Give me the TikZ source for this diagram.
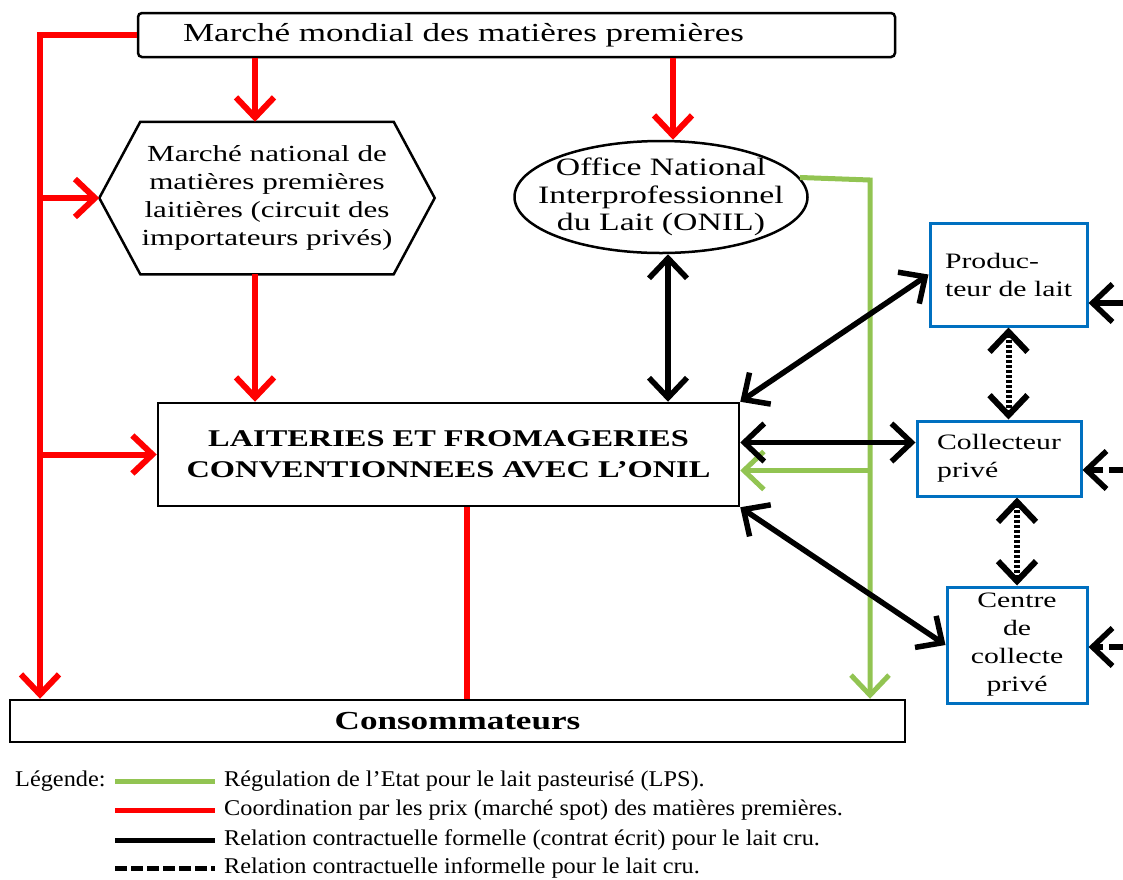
\documentclass[tikz,border=0pt]{standalone}
\usepackage{fontspec}
\setmainfont{Liberation Serif}
\newfontfamily\diagfont[FakeStretch=1.35]{Liberation Serif}
\newfontfamily\legfont[FakeStretch=1.08]{Liberation Serif}
\usetikzlibrary{arrows.meta}
\usetikzlibrary{shapes.geometric}
\definecolor{lpsgreen}{RGB}{146,196,82}
\definecolor{boxblue}{RGB}{0,112,192}
\tikzset{
  barb/.tip={Straight Barb[length=20pt,width=38pt]},
  redline/.style={red,line width=6pt},
  blackline/.style={black,line width=5.5pt},
  greenline/.style={lpsgreen,line width=5pt},
  infline/.style={black,line width=6pt,dash pattern=on 3pt off 2pt},
  mainbox/.style={draw,line width=2.5pt,fill=white,inner sep=0pt,align=center,
    font=\diagfont\fontsize{23}{28}\selectfont},
  bluebox/.style={draw=boxblue,line width=3pt,fill=white,inner sep=0pt,
    font=\diagfont\fontsize{22}{28}\selectfont},
  legtext/.style={anchor=west,inner sep=0pt,font=\legfont\fontsize{22.5}{24}\selectfont}
}
\begin{document}
\begin{tikzpicture}[x=1pt,y=-1pt]
  \useasboundingbox (0,0) rectangle (1123,879);
  % boxes
  \node[mainbox,rounded corners=4pt,minimum height=44pt,text width=667pt,inner xsep=45pt,align=left,
    font=\diagfont\fontsize{26}{28}\selectfont] (mondial) at (516.5,35) {Marché mondial des matières premières};
  \node[mainbox,draw=none,minimum width=243pt,minimum height=150pt] (natl) at (267,198)
    {Marché national de\\matières premières\\laitières (circuit des\\importateurs privés)};
  \coordinate (natlL) at ([xshift=-41pt]natl.west);
  \coordinate (natlR) at ([xshift=41pt]natl.east);
  \draw[line width=2.5pt] (natl.north west) -- (natl.north east) -- (natlR) -- (natl.south east)
    -- (natl.south west) -- (natlL) -- cycle;
  \node[mainbox,ellipse,inner xsep=-25pt,inner ysep=0pt,minimum width=293pt,minimum height=112pt,
    font=\diagfont\fontsize{25}{27.5}\selectfont] (onil) at (661,197)
    {Office National\\Interprofessionnel\\du Lait (ONIL)};
  \node[mainbox,minimum width=581pt,minimum height=103pt,font=\diagfont\bfseries\fontsize{24}{31}\selectfont]
    (lait) at (448.5,454.5) {LAITERIES ET FROMAGERIES\\CONVENTIONNEES AVEC L’ONIL};
  \node[mainbox,minimum width=895pt,minimum height=42pt,font=\diagfont\bfseries\fontsize{26}{28}\selectfont]
    (conso) at (457.5,721) {Consommateurs};
  \node[bluebox,align=left,minimum width=157pt,minimum height=103pt] (prod) at (1008.5,274.5) {Produc-\\teur de lait};
  \node[bluebox,align=left,minimum width=164pt,minimum height=75pt] (coll) at (999,458.5) {Collecteur\\privé};
  \node[bluebox,align=center,minimum width=140pt,minimum height=116pt] (centre) at (1017,645) {Centre\\de\\collecte\\privé};
  % red: prix
  \coordinate (lbend) at (40,35);
  \draw[redline,-barb] (mondial.west) -| (lbend |- conso.north);
  \draw[redline,-barb] (lbend |- natlL) -- (natlL);
  \draw[redline,-barb] (lbend |- lait.west) -- (lait.west);
  \draw[redline,-barb] ([xshift=-12pt]natl.north |- mondial.south) -- ([xshift=-12pt]natl.north);
  \draw[redline,-barb] ([xshift=12pt]onil.north |- mondial.south) -- ([xshift=12pt]onil.north);
  \draw[redline,-barb] ([xshift=-12pt]natl.south) -- ([xshift=-12pt]natl.south |- lait.north);
  \draw[redline] ([xshift=18pt]lait.south) -- ([xshift=18pt]lait.south |- conso.north);
  % green: LPS
  \coordinate (gtop) at (870,180);
  \coordinate (lgreen) at ([yshift=-16pt]lait.east);
  \draw[greenline,-barb] (onil.8) -- (gtop) -- (gtop |- conso.north);
  \draw[greenline,-barb] (gtop |- lgreen) -- (lgreen);
  % black: contrats
  \draw[blackline,barb-barb] ([xshift=7pt]onil.south) -- ([xshift=7pt]onil.south |- lait.north);
  \draw[blackline,barb-barb] (lait.north east) -- (prod.west);
  \draw[blackline,barb-barb] ([yshift=12pt]lait.east) -- ([yshift=12pt]lait.east -| coll.west);
  \draw[blackline,barb-barb] (lait.south east) -- (centre.west);
  \draw[infline,barb-barb] (prod.south) -- (prod.south |- coll.north);
  \draw[infline,barb-barb] (centre.north |- coll.south) -- (centre.north);
  \coordinate (pin) at (1123,303);
  \coordinate (cin) at (1123,470);
  \coordinate (ein) at (1123,647);
  \draw[blackline,-barb] (pin) -- (pin -| prod.east);
  \draw[blackline,dash pattern=on 14pt off 6pt,-barb] (cin) -- (cin -| coll.east);
  \draw[blackline,dash pattern=on 14pt off 6pt,-barb] (ein) -- (ein -| centre.east);
  % legende
  \node[legtext] (leg) at (15,781) {Légende:};
  \draw[greenline] (115,781) -- (215,781);
  \draw[redline,line width=5pt] (115,810) -- (215,810);
  \draw[blackline,line width=5pt] (115,840) -- (215,840);
  \draw[blackline,line width=5pt,dash pattern=on 12pt off 4pt] (115,868) -- (215,868);
  \node[legtext] (leg1) at (224,781) {Régulation de l’Etat pour le lait pasteurisé (LPS).};
  \node[legtext] (leg2) at (224,810) {Coordination par les prix (marché spot) des matières premières.};
  \node[legtext] (leg3) at (224,840) {Relation contractuelle formelle (contrat écrit) pour le lait cru.};
  \node[legtext] (leg4) at (224,868) {Relation contractuelle informelle pour le lait cru.};
\end{tikzpicture}
\end{document}
